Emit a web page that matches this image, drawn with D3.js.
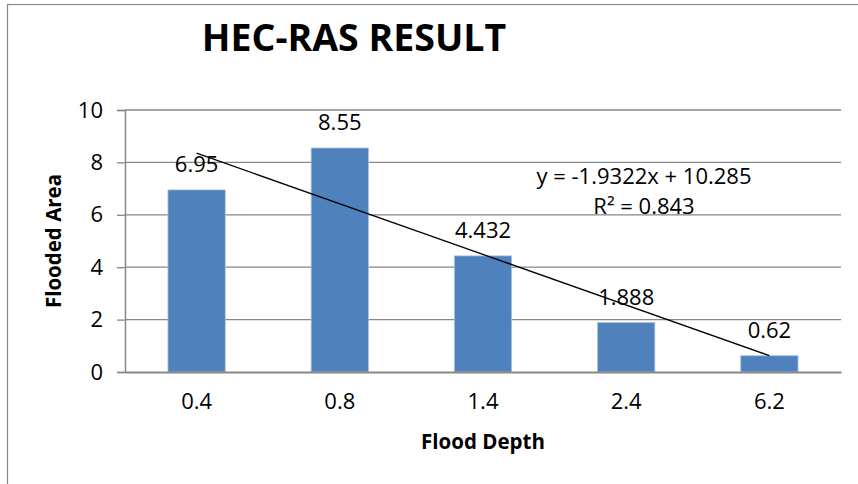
<!DOCTYPE html>
<html lang="en">
<head>
  <meta charset="UTF-8">
  <title>HEC-RAS RESULT</title>
  <style>
    body { margin: 0; background: #fff; }
    text { font-family: "Open Sans", sans-serif; fill: #000; }
  </style>
</head>
<body>
  <svg></svg>
  <script src="https://cdn.jsdelivr.net/npm/d3@7"></script>
  <script>
    const depths = ["0.4", "0.8", "1.4", "2.4", "6.2"]
    const areas = [6.95, 8.55, 4.432, 1.888, 0.62]
    const yTicks = [0, 2, 4, 6, 8, 10]
    const trendSlope = -1.9322
    const trendIntercept = 10.285
    const trendR2 = 0.843

    var width = 858
    var height = 484
    var plotLeft = 125, plotRight = 841, plotTop = 110, plotBottom = 372
    var grey = "#878787"

    var svg = d3.select("svg")
      .attr("width", width)
      .attr("height", height)

    // chart border (clipped on right/bottom like the source image)
    svg.append("rect")
      .attr("x", 7.5).attr("y", 4.5)
      .attr("width", 1000).attr("height", 1000)
      .attr("fill", "none")
      .attr("stroke", "#8a8a8a")
      .attr("stroke-width", 1.2)

    var x = d3.scaleBand()
      .domain(depths)
      .range([plotLeft, plotRight])
      .paddingInner(0.6)
      .paddingOuter(0.3)

    var y = d3.scaleLinear()
      .domain([0, 10])
      .range([plotBottom, plotTop])

    // gridlines
    svg.append("g")
      .selectAll("line")
      .data(yTicks.filter(d => d > 0))
      .join("line")
      .attr("x1", plotLeft).attr("x2", plotRight)
      .attr("y1", d => y(d)).attr("y2", d => y(d))
      .attr("stroke", grey)
      .attr("stroke-width", 1.3)

    // y axis
    var yAxis = svg.append("g")
      .attr("transform", `translate(${plotLeft}, 0)`)
      .call(d3.axisLeft(y).tickValues(yTicks).tickSize(8).tickPadding(14))
    yAxis.select(".domain").attr("stroke", grey).attr("stroke-width", 1.5)
    yAxis.selectAll(".tick line").attr("stroke", grey).attr("stroke-width", 1.3)
    yAxis.selectAll(".tick text")
      .attr("font-size", 22)
      .attr("font-family", "Open Sans")
      .attr("fill", "#000")

    // bars
    svg.append("g")
      .selectAll("rect")
      .data(areas)
      .join("rect")
      .attr("x", (d, i) => x(depths[i]))
      .attr("y", d => y(d))
      .attr("width", x.bandwidth())
      .attr("height", d => y(0) - y(d))
      .attr("fill", "#4f81bd")
      .attr("stroke", "#a9c0df")
      .attr("stroke-width", 0.8)

    // x axis
    var xAxis = svg.append("g")
      .attr("transform", `translate(0, ${plotBottom})`)
      .call(d3.axisBottom(x).tickSize(0).tickPadding(21))
    xAxis.select(".domain").attr("stroke", grey).attr("stroke-width", 1.8)
    xAxis.selectAll(".tick text")
      .attr("font-size", 22)
      .attr("font-family", "Open Sans")
      .attr("fill", "#000")

    // data labels
    svg.append("g")
      .selectAll("text")
      .data(areas)
      .join("text")
      .attr("x", (d, i) => x(depths[i]) + x.bandwidth() / 2)
      .attr("y", d => y(d) - 17.5)
      .attr("text-anchor", "middle")
      .attr("font-size", 22)
      .text(d => d)

    // linear trendline over category index 1..n
    var cx = i => x(depths[i]) + x.bandwidth() / 2
    var line = d3.line()
      .x(d => cx(d))
      .y(d => y(trendSlope * (d + 1) + trendIntercept))
    svg.append("path")
      .attr("d", line([0, depths.length - 1]))
      .attr("fill", "none")
      .attr("stroke", "#000")
      .attr("stroke-width", 1.3)

    svg.append("text")
      .attr("x", 644).attr("y", 184)
      .attr("text-anchor", "middle")
      .attr("font-size", 22)
      .text(`y = ${trendSlope}x + ${trendIntercept}`)
    svg.append("text")
      .attr("x", 644).attr("y", 214)
      .attr("text-anchor", "middle")
      .attr("font-size", 22)
      .text(`R² = ${trendR2}`)

    // titles
    svg.append("text")
      .attr("x", 354).attr("y", 51)
      .attr("text-anchor", "middle")
      .attr("font-size", 37.5)
      .attr("font-weight", "bold")
      .text("HEC-RAS RESULT")

    svg.append("text")
      .attr("x", (plotLeft + plotRight) / 2).attr("y", 449)
      .attr("text-anchor", "middle")
      .attr("font-size", 20.5)
      .attr("font-weight", "bold")
      .text("Flood Depth")

    svg.append("text")
      .attr("transform", `translate(61, ${(plotTop + plotBottom) / 2}) rotate(-90)`)
      .attr("text-anchor", "middle")
      .attr("font-size", 20.5)
      .attr("font-weight", "bold")
      .text("Flooded Area")
  </script>
</body>
</html>
